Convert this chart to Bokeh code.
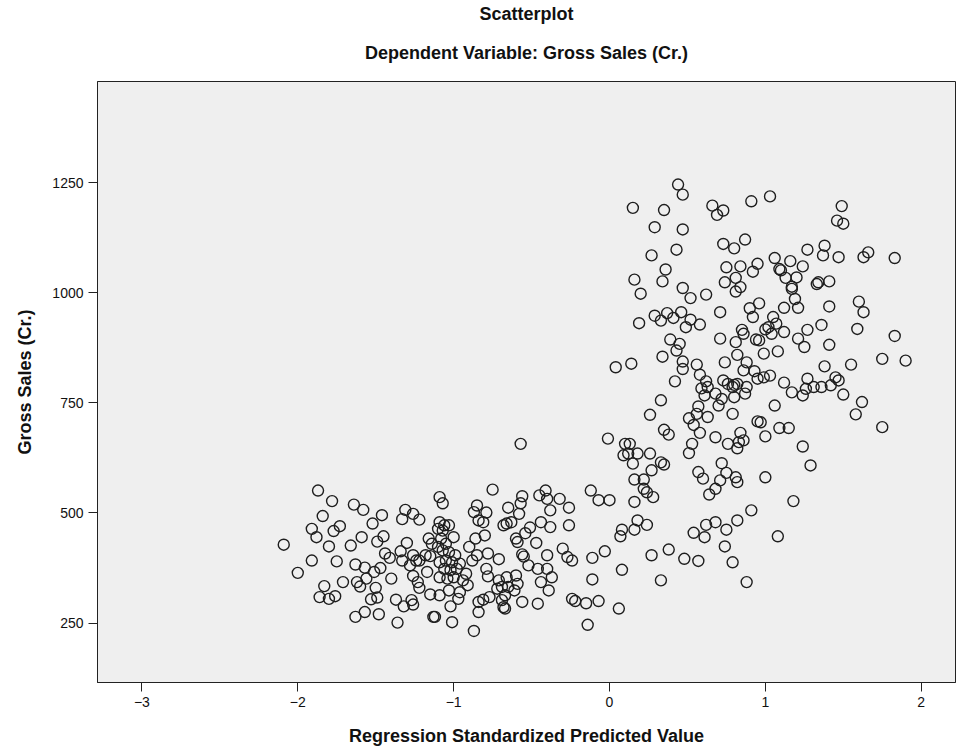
from bokeh.plotting import figure
from bokeh.models import Title, FixedTicker, ColumnDataSource
from bokeh.embed import file_html
from bokeh.resources import INLINE

# Regression standardized predicted value vs. gross sales (Cr.)
pred_std = [
    -1.87, -1.78, -1.64, -1.58, -1.46, -1.84, -1.31, -1.26, -1.33, -1.22, -1.52, -1.91, -1.88, -1.77,
    -1.73, -2.09, -1.80, -1.66, -1.59, -1.49, -1.45, -1.30, -1.16, -1.14, -1.91, -1.75, -2.00, -1.63,
    -1.57, -1.44, -1.41, -1.34, -1.33, -1.26, -1.24, -1.22, -1.28, -1.18, -1.15, -1.51, -1.47, -1.56,
    -1.40, -1.26, -1.17, -1.71, -1.83, -1.62, -1.60, -1.50, -1.23, -1.22, -1.86, -1.80, -1.76, -1.53,
    -1.49, -1.37, -1.32, -1.27, -1.26, -1.15, -1.63, -1.57, -1.48, -1.36, -1.13,
    -0.75, -1.09, -1.07, -0.85, -0.87, -0.79, -0.84, -0.81, -0.65, -0.56, -0.57, -0.58, -0.66, -0.63,
    -0.68, -0.45, -0.41, -0.40, -0.32, -0.26, -0.38, -0.44, -0.38, -0.26, -0.12, -0.07, 0.00,
    -1.09, -1.06, -1.10, -1.07, -1.03, -1.00, -1.08, -1.05, -1.10, -1.07, -1.03, -0.99, -1.09, -1.05,
    -1.01, -0.96, -1.06, -1.02, -0.98, -0.92, -1.09, -1.04, -1.00, -0.94, -0.91, -1.03, -0.96, -1.09,
    -0.97, -1.02, -1.12, -1.01,
    -0.90, -0.86, -0.80, -0.88, -0.85, -0.78, -0.71, -0.79, -0.78, -0.60, -0.59, -0.54, -0.51, -0.56,
    -0.55, -0.47, -0.40, -0.30, -0.27, -0.24, -0.52, -0.46, -0.40, -0.37, -0.71, -0.66, -0.60, -0.59,
    -0.72, -0.69, -0.65, -0.61, -0.67, -0.44, -0.39, -0.84, -0.81, -0.77, -0.69, -0.68, -0.67, -0.84,
    -0.56, -0.46, -0.24, -0.22, -0.15, -0.07, -0.11, -0.03, -0.11, -0.14, -0.87, -0.57,
    0.44, 0.47, 0.15, 0.35, 0.66, 0.69, 0.73, 0.91, 0.29, 0.47, 0.73, 0.80, 0.87, 0.27,
    0.43, 0.36, 0.34, 0.16, 0.75, 0.84, 0.92, 0.95, 0.74, 0.81, 0.84, 0.81, 0.47, 0.52,
    0.20, 0.62, 0.71, 0.90, 0.92, 0.96, 0.19, 0.29, 0.33, 0.37, 0.41, 0.46, 0.49, 0.52,
    0.58, 0.85,
    1.03, 1.49, 1.46, 1.50, 1.27, 1.38, 1.37, 1.47, 1.66, 1.63, 1.83, 1.06, 1.16, 1.24,
    1.09, 1.10, 1.13, 1.20, 1.17, 1.17, 1.33, 1.34, 1.41, 1.19, 1.21, 1.12, 1.41, 1.60,
    1.63, 1.05, 1.07, 1.02, 1.36, 1.59, 1.27,
    0.39, 0.45, 0.43, 0.71, 0.86, 0.81, 0.94, 0.04, 0.14, 0.34, 0.47, 0.47, 0.56, 0.58,
    0.74, 0.82, 0.88, 0.86, 0.93, 0.95, 0.42, 0.62, 0.59, 0.63, 0.61, 0.68, 0.73, 0.76,
    0.80, 0.82, 0.79, 0.88, 0.87, 0.70, 0.72, 0.80, 0.33, 0.26, 0.57, 0.56, 0.51, 0.54,
    0.63, 0.79, 0.95, 0.35, 0.38, 0.58, -0.01, 0.68, 0.84, 0.86, 0.83, 0.82, 0.76, 0.53,
    0.51, 0.10, 0.13, 0.09, 0.12, 0.18, 0.15, 0.26, 0.33, 0.35, 0.27, 0.16, 0.22, 0.57,
    0.60, 0.72, 0.75, 0.81, 0.82, 0.71,
    1.00, 1.04, 0.96, 1.12, 1.21, 1.25, 1.83, 1.41, 0.99, 1.08, 1.75, 1.90, 1.38, 1.55,
    0.99, 1.03, 1.12, 1.17, 1.24, 1.27, 1.26, 1.31, 1.36, 1.42, 1.45, 1.47, 1.50, 1.62,
    1.58, 1.06, 0.97, 1.00, 1.09, 1.15, 1.75, 1.24, 1.29, 1.00,
    0.22, 0.24, 0.28, 0.64, 0.68, 0.16, 0.91, 0.08, 0.07, 0.18, 0.16, 0.24, 0.54, 0.61,
    0.62, 0.68, 0.75, 0.82, 0.74, 0.27, 0.38, 0.48, 0.57, 0.79, 0.08, 0.33, 0.88, 0.06,
    1.18, 1.08,
]

gross_sales = [
    551, 527, 519, 507, 495, 493, 507, 498, 486, 485, 476, 464, 445, 459,
    470, 428, 424, 426, 445, 435, 447, 432, 442, 430, 392, 390, 364, 383,
    376, 408, 398, 413, 392, 404, 392, 392, 381, 404, 402, 366, 375, 351,
    351, 357, 366, 343, 334, 343, 333, 330, 343, 330, 309, 305, 311, 304,
    308, 303, 288, 302, 292, 315, 264, 275, 270, 251, 264,
    553, 536, 522, 517, 502, 501, 483, 479, 512, 538, 522, 498, 476, 479,
    472, 540, 551, 532, 532, 512, 506, 479, 468, 472, 551, 529, 529,
    479, 472, 464, 460, 472, 445, 442, 430, 423, 415, 411, 404, 388, 392,
    388, 385, 373, 370, 373, 362, 354, 351, 354, 347, 336, 324, 320, 313,
    305, 288, 264, 252,
    423, 442, 449, 392, 404, 408, 395, 373, 356, 442, 434, 454, 467, 406,
    401, 432, 404, 419, 400, 392, 381, 373, 373, 354, 347, 354, 358, 339,
    328, 332, 332, 324, 313, 343, 324, 298, 303, 309, 302, 286, 283, 275,
    298, 294, 305, 300, 295, 300, 398, 413, 349, 246, 232, 657,
    1246, 1223, 1193, 1188, 1198, 1177, 1187, 1208, 1149, 1144, 1111, 1101, 1121, 1085,
    1098, 1053, 1026, 1030, 1058, 1060, 1048, 1066, 1024, 1034, 1013, 1003, 1011, 988,
    998, 996, 956, 965, 945, 976, 931, 948, 937, 954, 943, 956, 922, 939,
    928, 916,
    1219, 1197, 1164, 1157, 1098, 1107, 1085, 1081, 1092, 1081, 1079, 1079, 1072, 1060,
    1054, 1051, 1034, 1035, 1009, 1014, 1020, 1024, 1026, 986, 966, 966, 969, 980,
    956, 945, 930, 922, 927, 918, 916,
    894, 884, 869, 896, 907, 888, 894, 831, 839, 855, 844, 827, 837, 814,
    842, 859, 842, 824, 822, 805, 799, 799, 783, 786, 767, 771, 801, 793,
    791, 793, 786, 786, 771, 744, 759, 763, 756, 723, 742, 725, 715, 700,
    718, 725, 708, 689, 678, 682, 669, 672, 682, 665, 661, 647, 657, 657,
    636, 657, 657, 631, 635, 635, 612, 635, 615, 610, 597, 576, 576, 593,
    578, 613, 591, 581, 570, 574,
    917, 907, 892, 911, 896, 877, 902, 882, 862, 867, 850, 846, 833, 837,
    808, 812, 796, 774, 767, 805, 782, 786, 786, 790, 808, 801, 769, 752,
    724, 744, 706, 674, 693, 693, 695, 651, 608, 581,
    555, 547, 536, 542, 555, 525, 506, 462, 447, 483, 462, 473, 455, 445,
    473, 479, 462, 483, 424, 404, 417, 396, 391, 388, 371, 347, 343, 283,
    527, 447,
]

x_ticks = [-3, -2, -1, 0, 1, 2]
y_ticks = [250, 500, 750, 1000, 1250]

FONT = "Liberation Sans"

p = figure(
    width=958, height=755,
    x_range=(-3.285, 2.22), y_range=(115, 1480),
    output_backend="svg", toolbar_location=None,
    min_border_left=97, min_border_right=3, min_border_top=81, min_border_bottom=73,
    background_fill_color="#efefef", border_fill_color="white",
)
p.outline_line_color = "#222222"
p.outline_line_width = 1
p.grid.visible = False

src = ColumnDataSource(dict(x=pred_std, y=gross_sales))
p.scatter("x", "y", source=src, marker="circle", size=11,
          fill_alpha=0, line_color="#1e1e1e", line_width=1.4)

for ax, ticks in ((p.xaxis, x_ticks), (p.yaxis, y_ticks)):
    ax.ticker = FixedTicker(ticks=ticks)
    ax.minor_tick_line_color = None
    ax.major_tick_in = 0
    ax.major_tick_out = 9
    ax.major_tick_line_color = "#222222"
    ax.axis_line_color = "#222222"
    ax.major_label_text_font = FONT
    ax.major_label_text_font_size = "14px"
    ax.major_label_text_color = "#111111"
    ax.axis_label_text_font = FONT
    ax.axis_label_text_font_size = "18px"
    ax.axis_label_text_font_style = "bold"
    ax.axis_label_text_color = "#111111"

p.xaxis.axis_label = "Regression Standardized Predicted Value"
p.yaxis.axis_label = "Gross Sales (Cr.)"
p.xaxis.axis_label_standoff = 16
p.yaxis.axis_label_standoff = 14

p.add_layout(Title(text="Dependent Variable: Gross Sales (Cr.)", align="center",
                   vertical_align="top",
                   text_font=FONT, text_font_size="18px", text_font_style="bold",
                   text_color="#111111", standoff=34), "above")
p.add_layout(Title(text="Scatterplot", align="center",
                   vertical_align="top",
                   text_font=FONT, text_font_size="18px", text_font_style="bold",
                   text_color="#111111", standoff=0), "above")

open("out.html", "w").write(file_html(p, INLINE))
